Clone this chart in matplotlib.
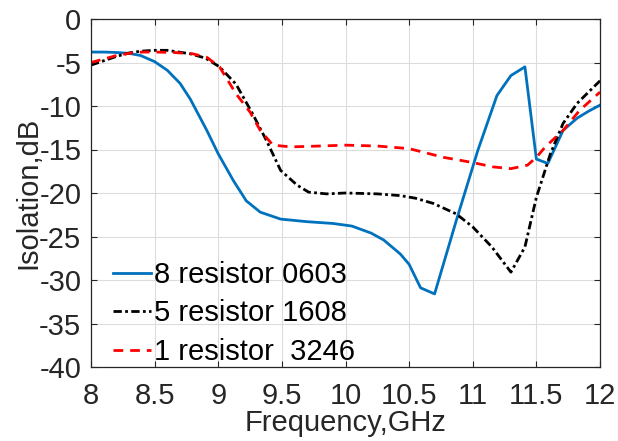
import matplotlib
matplotlib.use('Agg')
import matplotlib.pyplot as plt

plt.rcParams['font.family'] = ['Liberation Sans', 'DejaVu Sans']
plt.rcParams['axes.unicode_minus'] = False

# frequency points (GHz) and isolation (dB)
f_0603 = [8.0, 8.1, 8.2, 8.3, 8.39, 8.5, 8.6, 8.7, 8.78, 8.91, 9.0, 9.12, 9.22, 9.33, 9.49, 9.7,
          9.9, 10.05, 10.2, 10.3, 10.43, 10.5, 10.59, 10.70,
          10.87, 11.04, 11.19, 11.30, 11.41, 11.50, 11.59, 11.71, 11.82, 11.91, 12.0]
iso_0603 = [-3.8, -3.8, -3.85, -3.95, -4.2, -4.9, -5.9, -7.4, -9.2, -12.8, -15.5, -18.6, -20.9, -22.2, -23.0, -23.3,
            -23.5, -23.8, -24.6, -25.4, -27.0, -28.2, -30.9, -31.6,
            -23.2, -15.1, -8.8, -6.5, -5.5, -16.1, -16.6, -12.8, -11.4, -10.6, -9.9]

f_1608 = [8.0, 8.1, 8.2, 8.3, 8.39, 8.5, 8.6, 8.78, 8.9, 9.01, 9.14, 9.27, 9.38, 9.49, 9.62, 9.71,
          9.85, 10.0, 10.25, 10.43, 10.55, 10.69, 10.87, 11.0, 11.15, 11.30, 11.41, 11.50, 11.61,
          11.71, 11.82, 12.0]
iso_1608 = [-5.3, -4.8, -4.3, -3.9, -3.7, -3.6, -3.6, -4.0, -4.5, -5.5, -7.5, -10.9, -14.0, -17.4, -19.1, -19.9,
            -20.1, -20.0, -20.1, -20.3, -20.6, -21.2, -22.4, -23.9, -26.2, -29.1, -26.2, -20.5, -15.5,
            -12.0, -9.7, -7.1]

f_3246 = [8.0, 8.1, 8.2, 8.3, 8.4, 8.5, 8.65, 8.8, 8.91, 9.01, 9.14, 9.25, 9.33, 9.43, 9.57,
          9.8, 10.0, 10.25, 10.5, 10.77, 11.0, 11.16, 11.30, 11.43, 11.50, 11.57, 11.71, 11.84, 12.0]
iso_3246 = [-5.0, -4.6, -4.2, -3.95, -3.8, -3.8, -3.85, -4.0, -4.4, -5.5, -8.6, -10.7, -12.8, -14.5, -14.7,
            -14.6, -14.5, -14.6, -14.9, -15.9, -16.5, -17.0, -17.2, -16.8, -15.9, -14.7, -12.8, -10.5, -8.4]

labels = ['8 resistor 0603', '5 resistor 1608', '1 resistor  3246']

fig = plt.figure(figsize=(6.18, 4.41), dpi=100)
ax = fig.add_axes([91 / 618, 1 - 367 / 441, 509 / 618, 348 / 441])

ax.plot(f_0603, iso_0603, color='#0072BD', lw=2.0, label=labels[0])
ax.plot(f_1608, iso_1608, color='black', lw=2.0, linestyle=(0, (3, 1.2, 1, 1.2)), label=labels[1])
ax.plot(f_3246, iso_3246, color='#FF0000', lw=2.0, linestyle=(0, (3.5, 2.5)), label=labels[2])

ax.set_xlim(8, 12)
ax.set_ylim(-40, 0)
ax.set_xticks([8, 8.5, 9, 9.5, 10, 10.5, 11, 11.5, 12])
ax.set_xticklabels(['8', '8.5', '9', '9.5', '10', '10.5', '11', '11.5', '12'])
ax.set_yticks(range(-40, 1, 5))
ax.grid(True, color='#DCDCDC', lw=0.8)
ax.tick_params(direction='in', top=True, right=True, labelsize=21, colors='#262626', length=4)
ax.tick_params(axis='x', pad=11)
ax.tick_params(axis='y', pad=7)
for s in ax.spines.values():
    s.set_color('#262626')
    s.set_linewidth(0.9)

ax.set_xlabel('Frequency,GHz', fontsize=21, labelpad=-1, color='#262626')
ax.set_ylabel('Isolation,dB', fontsize=21, labelpad=-2, color='#262626')

ax.legend(loc='lower left', frameon=False, fontsize=21, handlelength=1.3, handletextpad=0.1,
          labelspacing=0.36, borderaxespad=0.0, bbox_to_anchor=(0.02, -0.03))

fig.savefig('out.png', dpi=100)
